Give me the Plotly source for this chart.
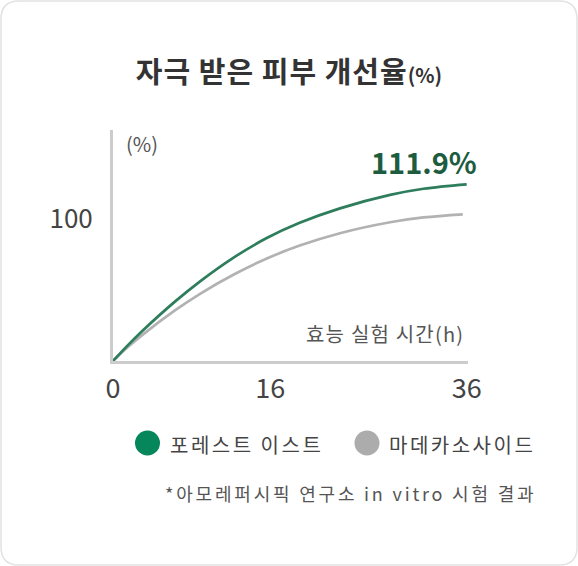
import plotly.graph_objects as go

# hours on the x axis (read at the sampled points)
hours = [0, 1.4, 2.9, 6.3, 8.9, 12.2, 15.6, 19, 23.1, 28.2, 31.6, 36]
hours_gray = [0, 1.4, 2.9, 6.3, 8.9, 12.2, 15.6, 19, 23.1, 28.2, 31.6, 35.6]

# curve values (axis units, 100 = tick)
forest = [0, 10.3, 20.6, 41.8, 56.3, 72.5, 86.4, 97.3, 107.5, 117.0, 121.3, 124.4]
madeca = [0, 9.2, 17.9, 35.6, 47.5, 60.6, 72.0, 81.3, 90.0, 97.7, 101.1, 103.3]

series_names = ["포레스트 이스트", "마데카소사이드"]
line_colors = ["#2e7d5c", "#b2b2b2"]
dot_colors = ["#06865b", "#acacac"]

x_ticks = [0, 16, 36]
x_ticktext = ["0", "16", "36"]
y_ticks = [100]
y_ticktext = ["100"]

final_label = "111.9%"
title = "자극 받은 피부 개선율"
x_title = "효능 실험 시간(h)"
y_title = "(%)"
footnote = "*아모레퍼시픽 연구소 in vitro 시험 결과"

FONT = "Noto Sans CJK KR"
W, H = 578, 566
L, R, T, B = 113, 110, 130, 205
PW, PH = W - L - R, H - T - B


def fx(px):
    return (px - L) / PW


def fy(py):
    return (H - B - py) / PH


def spaced(s, ls):
    return f"<span style='letter-spacing:{ls}px'>{s}</span>"


fig = go.Figure()
fig.add_trace(go.Scatter(x=hours_gray, y=madeca, mode="lines", name=series_names[1],
                         line=dict(color=line_colors[1], width=2.7, shape="spline")))
fig.add_trace(go.Scatter(x=hours, y=forest, mode="lines", name=series_names[0],
                         line=dict(color=line_colors[0], width=2.7, shape="spline")))

# rounded border of the card
x0, y0, x1, y1, r = 1, 1, 577, 565, 18
pts = [
    ("M", x0 + r, y0), ("L", x1 - r, y0), ("Q", x1, y0, x1, y0 + r),
    ("L", x1, y1 - r), ("Q", x1, y1, x1 - r, y1), ("L", x0 + r, y1),
    ("Q", x0, y1, x0, y1 - r), ("L", x0, y0 + r), ("Q", x0, y0, x0 + r, y0),
]
path = ""
for p in pts:
    cmd, vals = p[0], p[1:]
    coords = []
    for i in range(0, len(vals), 2):
        coords.append(f"{fx(vals[i]):.5f},{fy(vals[i + 1]):.5f}")
    path += cmd + " ".join(coords) + " "
shapes = [dict(type="path", xref="paper", yref="paper", path=path + "Z",
               line=dict(color="#e2e2e2", width=1.5), layer="below")]

annotations = [
    dict(text=final_label, xref="paper", yref="paper", x=fx(479), y=fy(161),
         xanchor="right", yanchor="middle", showarrow=False,
         font=dict(family=FONT, size=29, color="#1d5c3f", weight="bold")),
    dict(text=y_title, xref="paper", yref="paper", x=fx(124), y=fy(143),
         xanchor="left", yanchor="middle", showarrow=False,
         font=dict(family=FONT, size=20, color="#555555")),
    dict(text=spaced(x_title, 1.2), xref="paper", yref="paper", x=fx(466), y=fy(333),
         xanchor="right", yanchor="middle", showarrow=False,
         font=dict(family=FONT, size=20, color="#555555")),
    dict(text=spaced(footnote, 2.8), xref="paper", yref="paper", x=fx(538), y=fy(493),
         xanchor="right", yanchor="middle", showarrow=False,
         font=dict(family=FONT, size=18, color="#555555")),
]

# custom legend with large dots
dot_x = [147.5, 367]
for name, col, cx in zip(series_names, dot_colors, dot_x):
    shapes.append(dict(type="circle", xref="paper", yref="paper",
                       x0=fx(cx - 12.5), x1=fx(cx + 12.5), y0=fy(443 + 12.5), y1=fy(443 - 12.5),
                       fillcolor=col, line=dict(width=0)))
    annotations.append(dict(text=spaced(name, 2.5), xref="paper", yref="paper", x=fx(cx + 20), y=fy(444),
                            xanchor="left", yanchor="middle", showarrow=False,
                            font=dict(family=FONT, size=20, color="#444444")))

fig.update_layout(
    width=W, height=H,
    margin=dict(l=L, r=R, t=T, b=B),
    paper_bgcolor="white", plot_bgcolor="white",
    showlegend=False,
    font=dict(family=FONT),
    title=dict(text=spaced(title, 1) + "<span style='font-size:20px'>(%)</span>",
               x=0.5, xref="container", y=1 - 73 / H, yanchor="middle",
               font=dict(family=FONT, size=29, color="#333333", weight="bold")),
    shapes=shapes,
    annotations=annotations,
    xaxis=dict(range=[0, PW / 9.825], tickvals=x_ticks, ticktext=x_ticktext,
               showgrid=False, zeroline=False, showline=True, linecolor="#cccccc", linewidth=3,
               ticks="outside", ticklen=2, tickcolor="rgba(0,0,0,0)",
               tickfont=dict(family=FONT, size=27, color="#444444")),
    yaxis=dict(range=[0, PH / 1.42], tickvals=y_ticks, ticktext=y_ticktext,
               showgrid=False, zeroline=False, showline=True, linecolor="#cccccc", linewidth=3,
               ticks="outside", ticklen=12, tickcolor="rgba(0,0,0,0)",
               tickfont=dict(family=FONT, size=26, color="#444444")),
)

fig.write_html("out.html", config={"displayModeBar": False},
               post_script="document.body.style.margin='0';")
